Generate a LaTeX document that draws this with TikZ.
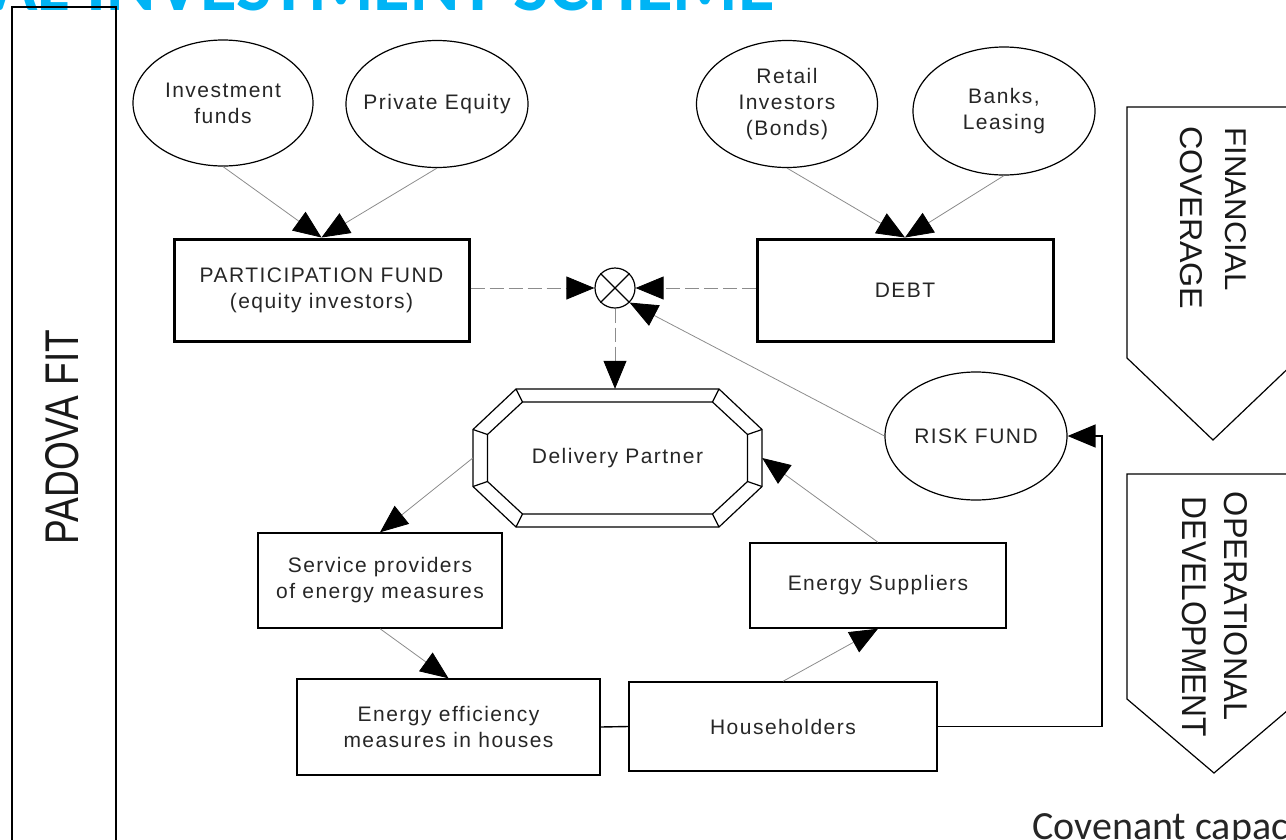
\documentclass[tikz,border=0pt]{standalone}
\usepackage{fontspec}
\setmainfont{Liberation Sans}
\newfontfamily\diagfont[LetterSpace=7]{Liberation Sans}
\newfontfamily\calfont{Carlito}
\usetikzlibrary{arrows.meta,shapes.geometric}
\definecolor{titlecyan}{HTML}{00B4F5}
\definecolor{txtgray}{HTML}{262626}
\begin{document}
\begin{tikzpicture}[x=1pt,y=-1pt,
  lbl/.style={font=\diagfont\fontsize{21}{26}\selectfont, text=txtgray, align=center},
  ellnode/.style={ellipse, draw, line width=1.2pt, inner sep=0pt},
  thinbox/.style={lbl, rectangle, draw, line width=1.4pt, inner sep=0pt},
  thickbox/.style={lbl, rectangle, draw, line width=3pt, inner sep=0pt},
  bigtip/.style={-{Triangle[length=28pt,width=23pt,color=black]}},
  conn/.style={draw=black!45, line width=0.8pt, bigtip},
  dconn/.style={conn, dash pattern=on 14pt off 5pt},
  solidline/.style={draw=black, line width=1.4pt},
  sidetext/.style={inner sep=0pt, text=black!90}
]
\useasboundingbox (0,0) rectangle (1286,839);
\clip (0,0) rectangle (1286,839);

% title and footer text (cut by the frame, as in the reference)
\node[anchor=base east, font=\calfont\bfseries\fontsize{75}{80}\selectfont, text=titlecyan, inner sep=0pt] (title) at (775,10) {AL INVESTMENT SCHEME};
\node[anchor=base west, font=\calfont\fontsize{40}{44}\selectfont, text=black!85, inner sep=0pt] (cov) at (1032,839) {Covenant capacity};

% left column
\draw[line width=1.8pt] (12,860) -- (12,7) -- (116,7) -- (116,860);
\node[sidetext, rotate=90] (padova) at (62,437) {\resizebox{215pt}{33pt}{PADOVA FIT}};

% right pentagon arrows
\draw[line width=1.2pt] (1300,107) -- (1127,107) -- (1127,358) -- (1213,440) -- (1299,358);
\draw[line width=1.2pt] (1300,474) -- (1127,474) -- (1127,699) -- (1214,773) -- (1301,699);
\node[sidetext, rotate=-90] (fin) at (1236,209) {\resizebox{163pt}{21pt}{FINANCIAL}};
\node[sidetext, rotate=-90] (covg) at (1191,218) {\resizebox{183pt}{22pt}{COVERAGE}};
\node[sidetext, rotate=-90] (oper) at (1236,606) {\resizebox{228pt}{23pt}{OPERATIONAL}};
\node[sidetext, rotate=-90] (devel) at (1194,617) {\resizebox{240pt}{24pt}{DEVELOPMENT}};

% ellipses (outline) and their texts
\node[ellnode, minimum width=180pt, minimum height=126pt] (inv) at (223,103) {};
\node[lbl] (invt) at (inv.center) {Investment\\funds};
\node[ellnode, minimum width=182pt, minimum height=127pt] (peq) at (437,104) {};
\node[lbl] (peqt) at (peq.center) {Private Equity};
\node[ellnode, minimum width=181pt, minimum height=127pt] (ret) at (787,104) {};
\node[lbl] (rett) at (ret.center) {Retail\\Investors\\(Bonds)};
\node[ellnode, minimum width=182pt, minimum height=128pt] (bank) at (1004,111) {};
\node[lbl] (bankt) at (bank.center) {Banks,\\Leasing};
\node[ellnode, minimum width=182pt, minimum height=128pt] (risk) at (976,436) {};
\node[lbl] (riskt) at (risk.center) {RISK FUND};

% boxes
\node[thickbox, minimum width=295pt, minimum height=102pt] (pf) at (321.5,290) {PARTICIPATION FUND\\(equity investors)};
\node[thickbox, minimum width=296pt, minimum height=102pt] (debt) at (905,290) {DEBT};
\node[thinbox, minimum width=244pt, minimum height=95pt] (sp) at (380,580.5) {Service providers\\of energy measures};
\node[thinbox, minimum width=303pt, minimum height=96pt] (ee) at (448.5,727) {Energy efficiency\\measures in houses};
\node[thinbox, minimum width=308pt, minimum height=89pt] (hh) at (783,726.5) {Householders};
\node[thinbox, minimum width=256pt, minimum height=85pt] (es) at (878,585.5) {Energy Suppliers};

% junction circle
\node[circle, draw, line width=1.2pt, minimum size=40pt, inner sep=0pt] (circ) at (615,288) {};
\draw[line width=1.2pt] (circ.north west) -- (circ.south east) (circ.north east) -- (circ.south west);

% delivery partner octagon
\node[lbl, minimum width=289pt, minimum height=138pt, inner sep=0pt] (dp) at (617.5,458) {Delivery Partner};
\begin{scope}[shift={(dp.center)}, line width=1.2pt]
  \draw (-101.5,-69) -- (101.5,-69) -- (144.5,-28.5) -- (144.5,28.5) -- (101.5,69) -- (-101.5,69) -- (-144.5,28.5) -- (-144.5,-28.5) -- cycle;
  \draw (-95,-56) -- (95,-56) -- (130,-23.5) -- (130,23.5) -- (95,56) -- (-95,56) -- (-130,23.5) -- (-130,-23.5) -- cycle;
  \draw (-101.5,-69) -- (-95,-56) (101.5,-69) -- (95,-56)
        (144.5,-28.5) -- (130,-23.5) (144.5,28.5) -- (130,23.5)
        (101.5,69) -- (95,56) (-101.5,69) -- (-95,56)
        (-144.5,28.5) -- (-130,23.5) (-144.5,-28.5) -- (-130,-23.5);
\end{scope}

% connectors
\draw[conn] (inv.south) -- (pf.north);
\draw[conn] (peq.south) -- (pf.north);
\draw[conn] (ret.south) -- (debt.north);
\draw[conn] (bank.south) -- (debt.north);
\draw[dconn] (pf.east |- circ.west) -- (circ.west);
\draw[dconn] (debt.west |- circ.east) -- (circ.east);
\draw[conn] (risk.west) -- (circ.south east);
\draw[dconn] (circ.south) -- (circ.south |- dp.north);
\draw[conn] (dp.west) -- (sp.north);
\draw[conn] (sp.south) -- (ee.north);
\draw[conn] (hh.north) -- (es.south);
\draw[conn] (es.north) -- (dp.east);
\draw[solidline] (ee.east) -- (hh.west);
\coordinate (rj) at (1102,436);
\draw[solidline, bigtip] (hh.east) -| (rj) -- (risk.east);
\end{tikzpicture}
\end{document}
